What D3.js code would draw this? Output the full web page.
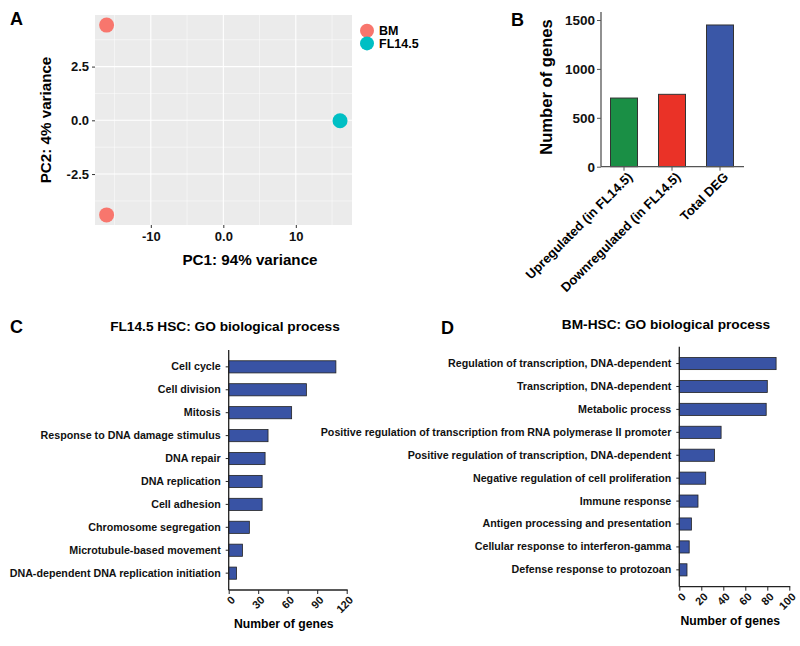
<!DOCTYPE html>
<html>
<head>
<meta charset="utf-8">
<script src="https://cdn.jsdelivr.net/npm/d3@7"></script>
<style>
  body { margin: 0; background: #fff; }
  svg { font-family: "Liberation Sans", Arial, sans-serif; font-weight: bold; }
</style>
</head>
<body>
<script>
// Panel A: PCA points
var pcaGroups = ["BM", "FL14.5"];
var pcaColors = ["#F8766D", "#00BFC4"];
var pcaPC1 = [-16.1, -16.1, 16.1];
var pcaPC2 = [4.43, -4.4, -0.02];
var pcaGroup = ["BM", "BM", "FL14.5"];

// Panel B: DEG counts
var degCategories = ["Upregulated (in FL14.5)", "Downregulated (in FL14.5)", "Total DEG"];
var degValues = [702, 740, 1449];
var degColors = ["#1a8f45", "#ea3227", "#3a57a7"];
var degTicks = [0, 500, 1000, 1500];

// Panel C: FL14.5 HSC GO terms
var flTerms = ["Cell cycle", "Cell division", "Mitosis", "Response to DNA damage stimulus",
  "DNA repair", "DNA replication", "Cell adhesion", "Chromosome segregation",
  "Microtubule-based movement", "DNA-dependent DNA replication initiation"];
var flCounts = [109, 79, 64, 40, 37, 34, 34, 21, 14, 8];
var flTicks = [0, 30, 60, 90, 120];

// Panel D: BM-HSC GO terms
var bmTerms = ["Regulation of transcription, DNA-dependent", "Transcription, DNA-dependent",
  "Metabolic process", "Positive regulation of transcription from RNA polymerase II promoter",
  "Positive regulation of transcription, DNA-dependent", "Negative regulation of cell proliferation",
  "Immune response", "Antigen processing and presentation",
  "Cellular response to interferon-gamma", "Defense response to protozoan"];
var bmCounts = [88, 80, 79, 38, 32, 24, 17, 11, 9, 7];
var bmTicks = [0, 20, 40, 60, 80, 100];

var svg = d3.select("body").append("svg")
    .attr("width", 800)
    .attr("height", 646);

// panel letters
var letters = [["A", 10, 25], ["B", 511, 26], ["C", 10, 333], ["D", 441, 334]];
svg.selectAll(".letter")
    .data(letters)
    .enter().append("text")
    .attr("class", "letter")
    .attr("x", function(d) { return d[1]; })
    .attr("y", function(d) { return d[2]; })
    .style("font-size", "18px")
    .text(function(d) { return d[0]; });

// ---------- Panel A ----------
var xA = d3.scaleLinear().domain([-17.7, 17.75]).range([95, 352]);
var yA = d3.scaleLinear().domain([-4.87, 4.9]).range([225, 15]);

var gA = svg.append("g");
gA.append("rect")
    .attr("x", 95).attr("y", 15)
    .attr("width", 257).attr("height", 210)
    .attr("fill", "#EBEBEB");

// minor grid
var minorX = [-15, -5, 5, 15];
var minorY = [-3.75, -1.25, 1.25, 3.75];
gA.selectAll(".minx").data(minorX).enter().append("line")
    .attr("x1", xA).attr("x2", xA).attr("y1", 15).attr("y2", 225)
    .attr("stroke", "#fff").attr("stroke-width", 0.5);
gA.selectAll(".miny").data(minorY).enter().append("line")
    .attr("y1", yA).attr("y2", yA).attr("x1", 95).attr("x2", 352)
    .attr("stroke", "#fff").attr("stroke-width", 0.5);
// major grid
var majorX = [-10, 0, 10];
var majorY = [-2.5, 0, 2.5];
gA.selectAll(".majx").data(majorX).enter().append("line")
    .attr("x1", xA).attr("x2", xA).attr("y1", 15).attr("y2", 225)
    .attr("stroke", "#fff").attr("stroke-width", 1.1);
gA.selectAll(".majy").data(majorY).enter().append("line")
    .attr("y1", yA).attr("y2", yA).attr("x1", 95).attr("x2", 352)
    .attr("stroke", "#fff").attr("stroke-width", 1.1);

var axA = gA.append("g").attr("transform", "translate(0,225)")
    .call(d3.axisBottom(xA).tickValues(majorX).tickSize(3).tickPadding(4)
      .tickFormat(function(d) { return d == 0 ? "0.0" : String(d); }));
var ayA = gA.append("g").attr("transform", "translate(95,0)")
    .call(d3.axisLeft(yA).tickValues(majorY).tickSize(3).tickPadding(3)
      .tickFormat(function(d) { return d.toFixed(1); }));
[axA, ayA].forEach(function(a) {
  a.select(".domain").remove();
  a.selectAll("line").attr("stroke", "#333");
  a.selectAll("text").style("font-size", "13px").attr("fill", "#111")
    .style("font-family", "Liberation Sans, Arial, sans-serif");
});

gA.selectAll(".pt").data(pcaPC1).enter().append("circle")
    .attr("cx", function(d) { return xA(d); })
    .attr("cy", function(d, i) { return yA(pcaPC2[i]); })
    .attr("r", 7.5)
    .attr("fill", function(d, i) { return pcaColors[pcaGroups.indexOf(pcaGroup[i])]; });

gA.append("text")
    .attr("x", 250).attr("y", 265)
    .attr("text-anchor", "middle")
    .style("font-size", "15.2px")
    .text("PC1: 94% variance");
gA.append("text")
    .attr("transform", "translate(51,120) rotate(-90)")
    .attr("text-anchor", "middle")
    .style("font-size", "15.2px")
    .text("PC2: 4% variance");

var legA = gA.selectAll(".leg").data(pcaGroups).enter().append("g")
    .attr("transform", function(d, i) { return "translate(367," + (30.7 + i * 12.7) + ")"; });
legA.append("circle").attr("r", 7)
    .attr("fill", function(d, i) { return pcaColors[i]; });
legA.append("text").attr("x", 12).attr("y", 4.5)
    .style("font-size", "12.5px")
    .text(function(d) { return d; });

// ---------- Panel B ----------
var xB = d3.scaleBand().domain(degCategories).range([600, 744])
    .paddingInner(0.4375).paddingOuter(0.21875);
var yB = d3.scaleLinear().domain([0, 1500]).range([166.7, 20]);

var gB = svg.append("g");
gB.selectAll(".bar").data(degValues).enter().append("rect")
    .attr("x", function(d, i) { return xB(degCategories[i]); })
    .attr("y", function(d) { return yB(d); })
    .attr("width", xB.bandwidth())
    .attr("height", function(d) { return yB(0) - yB(d); })
    .attr("fill", function(d, i) { return degColors[i]; })
    .attr("stroke", "#333").attr("stroke-width", 1);

gB.append("line").attr("x1", 601).attr("x2", 744)
    .attr("y1", yB(0)).attr("y2", yB(0)).attr("stroke", "#555").attr("stroke-width", 1.3);
var ayB = gB.append("g").attr("transform", "translate(601,0)")
    .call(d3.axisLeft(yB).tickValues(degTicks).tickSize(4).tickPadding(2)
      .tickFormat(function(d) { return String(d); }));
ayB.select(".domain").attr("d", "M0," + yB(0) + "V12").attr("stroke", "#555").attr("stroke-width", 1.3);
ayB.selectAll("line").attr("stroke", "#555");
ayB.selectAll("text").style("font-size", "13.5px").attr("fill", "#111")
    .style("font-family", "Liberation Sans, Arial, sans-serif");

gB.selectAll(".xtick").data(degCategories).enter().append("line")
    .attr("x1", function(d) { return xB(d) + xB.bandwidth() / 2; })
    .attr("x2", function(d) { return xB(d) + xB.bandwidth() / 2; })
    .attr("y1", yB(0)).attr("y2", yB(0) + 4)
    .attr("stroke", "#555");
gB.selectAll(".xlab").data(degCategories).enter().append("text")
    .attr("transform", function(d) {
      return "translate(" + (xB(d) + xB.bandwidth() / 2 + 6) + "," + (yB(0) + 8) + ") rotate(-45)";
    })
    .attr("text-anchor", "end")
    .attr("dy", "0.35em")
    .style("font-size", "13px")
    .text(function(d) { return d; });

gB.append("text")
    .attr("transform", "translate(552,87) rotate(-90)")
    .attr("text-anchor", "middle")
    .style("font-size", "16.6px")
    .text("Number of genes");

// ---------- Panels C & D ----------
function goPanel(terms, counts, ticks, xLeft, xRight, yTop, maxVal, title, titleX, titleY) {
  var g = svg.append("g");
  var x = d3.scaleLinear().domain([0, maxVal]).range([xLeft, xRight]);
  var y = d3.scaleBand().domain(terms).range([yTop, yTop + 240]).padding(0.47);

  g.selectAll(".bar").data(counts).enter().append("rect")
      .attr("x", x(0))
      .attr("y", function(d, i) { return y(terms[i]); })
      .attr("width", function(d) { return x(d) - x(0); })
      .attr("height", y.bandwidth())
      .attr("fill", "#3953a4")
      .attr("stroke", "#222").attr("stroke-width", 0.8);

  var ay = g.append("g").attr("transform", "translate(" + xLeft + ",0)")
      .call(d3.axisLeft(y).tickSize(3).tickPadding(5));
  ay.select(".domain").attr("d", "M0," + yTop + "V" + (yTop + 240))
      .attr("stroke", "#222").attr("stroke-width", 1.3);
  ay.selectAll("line").attr("stroke", "#222");
  ay.selectAll("text").style("font-size", "10.7px").attr("fill", "#111")
      .style("font-family", "Liberation Sans, Arial, sans-serif");

  var ax = g.append("g").attr("transform", "translate(0," + (yTop + 240) + ")")
      .call(d3.axisBottom(x).tickValues(ticks).tickSize(4).tickPadding(3));
  ax.select(".domain").attr("d", "M" + xLeft + ",0H" + (xRight + 1))
      .attr("stroke", "#222").attr("stroke-width", 1.3);
  ax.selectAll("line").attr("stroke", "#222");
  ax.selectAll("text")
      .style("font-size", "11px").attr("fill", "#111")
      .style("font-family", "Liberation Sans, Arial, sans-serif")
      .attr("text-anchor", "end")
      .attr("dy", "0.35em")
      .attr("transform", "translate(4,8) rotate(-45)")
      .attr("y", 0);

  g.append("text")
      .attr("x", (xLeft + xRight) / 2 - 4).attr("y", yTop + 278)
      .attr("text-anchor", "middle")
      .style("font-size", "12.2px")
      .text("Number of genes");

  g.append("text")
      .attr("x", titleX).attr("y", titleY)
      .attr("text-anchor", "middle")
      .style("font-size", "13.7px")
      .text(title);
}

goPanel(flTerms, flCounts, flTicks, 228.7, 346.7, 350, 120,
  "FL14.5 HSC: GO biological process", 225, 331);
goPanel(bmTerms, bmCounts, bmTicks, 679.3, 789.3, 346.7, 100,
  "BM-HSC: GO biological process", 666, 329);
</script>
</body>
</html>
